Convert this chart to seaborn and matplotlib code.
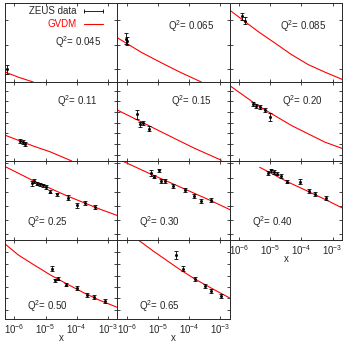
import numpy as np
import pandas as pd
import matplotlib
matplotlib.use("Agg")
import matplotlib.pyplot as plt
import seaborn as sns
from matplotlib.lines import Line2D
from matplotlib.ticker import FixedLocator, NullLocator, LogFormatterMathtext

# Q^2 bins (GeV^2)
q2_bins = ["0.045", "0.065", "0.085", "0.11", "0.15", "0.20",
           "0.25", "0.30", "0.40", "0.50", "0.65"]

# ZEUS data (x, sigma in arbitrary units, error)
x_045 = [5.7e-7]
y_045 = [16]
e_045 = [5.5]
x_065 = [9.7e-7, 1.05e-6]
y_065 = [55, 52]
e_065 = [6.5, 5]
x_085 = [1.24e-6, 1.52e-6]
y_085 = [83, 77.6]
e_085 = [4.2, 4.2]
x_011 = [1.52e-6, 1.85e-6, 2.19e-6]
y_011 = [25.6, 23.9, 21.4]
e_011 = [2.5, 2.5, 2.5]
x_015 = [2.19e-6, 2.6e-6, 3.34e-6, 5.0e-6]
y_015 = [59, 46.5, 48, 41]
e_015 = [5.5, 3, 3, 3]
x_020 = [2.8e-6, 3.6e-6, 4.6e-6, 6.6e-6, 1.01e-5]
y_020 = [71.7, 70, 68, 65, 55.7]
e_020 = [2.5, 2.5, 2.5, 2.5, 4.5]
x_025 = [3.76e-6, 4.35e-6, 5.4e-6, 6.6e-6, 8.1e-6, 1.03e-5, 1.39e-5,
         2.28e-5, 5.4e-5, 1.04e-4, 1.84e-4, 3.84e-4]
y_025 = [71.7, 74.6, 71.3, 70.4, 69.2, 67, 61.2, 57.9, 53.7, 44, 47.4, 41.9]
e_025 = [3.4, 2, 2, 2, 2, 2, 2, 2, 3, 3, 2.5, 2.5]
x_030 = [5.8e-6, 7.5e-6, 1.06e-5, 1.29e-5, 1.64e-5, 3.05e-5, 7.2e-5,
         1.44e-4, 2.34e-4, 5.2e-4]
y_030 = [85, 80, 88.5, 74.6, 74.6, 68.3, 63.3, 55.7, 49.5, 50.7]
e_030 = [3.4, 2, 2, 2, 2, 2, 2, 2.5, 2.5, 2.5]
x_040 = [8.5e-6, 1.09e-5, 1.32e-5, 1.69e-5, 2.16e-5, 3.54e-5, 8.8e-5,
         1.71e-4, 2.8e-4, 6.3e-4]
y_040 = [85, 88, 86, 84, 81, 74, 74, 61.6, 58.7, 53.2]
e_040 = [2.5, 2, 2, 2, 2, 2, 3, 2.5, 2.5, 2.5]
x_050 = [1.57e-5, 2.0e-5, 2.56e-5, 4.5e-5, 1.04e-4, 2.18e-4, 3.57e-4, 8.0e-4]
y_050 = [63.8, 49, 51.2, 43.6, 39.4, 30.2, 27.3, 23]
e_050 = [3.5, 2, 2, 2, 2.5, 2.5, 2.5, 2.5]
x_065b = [3.9e-5, 6.4e-5, 1.51e-4, 3.15e-4, 5.2e-4, 1.08e-3]
y_065b = [81, 63.8, 51.2, 42, 35.6, 29.4]
e_065b = [5, 3.5, 2.5, 2.5, 2.5, 2.5]

# GVDM curves
cx_045 = [5.0e-7, 1.41e-6, 4.0e-6]
cy_045 = [12.6, 5.8, 0]
cx_065 = [5.0e-7, 2.9e-6, 1.29e-5, 5.6e-5, 2.47e-4]
cy_065 = [56, 37.7, 24.3, 11.7, 0]
cx_085 = [5.0e-7, 4.05e-6, 1.39e-5, 4.76e-5, 1.62e-4, 5.56e-4, 2.0e-3]
cy_085 = [91, 64, 49.5, 34.8, 22.2, 12.6, 3.4]
cx_011 = [5.0e-7, 4.05e-6, 1.39e-5, 6.9e-5]
cy_011 = [32.7, 18.9, 11.7, 0]
cx_015 = [5.0e-7, 3.76e-6, 7.9e-6, 4.4e-5, 1.51e-4, 1.08e-3]
cy_015 = [64.5, 47.4, 41, 26.4, 16, 1]
cx_020 = [5.0e-7, 4.05e-6, 4.76e-5, 5.56e-4, 2.0e-3]
cy_020 = [95.5, 70, 45, 24, 16]
cx_025 = [5.0e-7, 4.05e-6, 4.76e-5, 5.56e-4, 2.0e-3]
cy_025 = [93, 75, 56, 39, 31]
cx_030 = [5.0e-7, 6.2e-6, 4.4e-5, 5.2e-4, 2.14e-3]
cy_030 = [103, 83, 68.3, 49.5, 38]
cx_040 = [4.6e-6, 3.7e-5, 1.62e-4, 5.56e-4, 2.0e-3]
cy_040 = [92, 73.4, 61.6, 51.6, 40.7]
cx_050 = [5.0e-7, 1.34e-6, 4.05e-6, 1.39e-5, 4.76e-5, 1.62e-4, 5.56e-4, 2.0e-3]
cy_050 = [95, 81, 69, 56, 44.5, 33.5, 23.5, 14.7]
cx_065b = [2.54e-6, 7.1e-6, 4.5e-5, 1.47e-4, 5.2e-4, 2.14e-3]
cy_065b = [99, 86, 64, 51, 39, 26]

# y tick values per row (no labels in the original)
row_yticks = [[16, 47, 79],
              [8, 21.5, 35, 48.5, 62, 75.5, 89],
              [7, 25, 43, 61, 79, 97],
              [11, 26, 40.5, 55, 70, 85]]

data_sets = [(x_045, y_045, e_045), (x_065, y_065, e_065), (x_085, y_085, e_085),
             (x_011, y_011, e_011), (x_015, y_015, e_015), (x_020, y_020, e_020),
             (x_025, y_025, e_025), (x_030, y_030, e_030), (x_040, y_040, e_040),
             (x_050, y_050, e_050), (x_065b, y_065b, e_065b)]
curves = [(cx_045, cy_045), (cx_065, cy_065), (cx_085, cy_085),
          (cx_011, cy_011), (cx_015, cy_015), (cx_020, cy_020),
          (cx_025, cy_025), (cx_030, cy_030), (cx_040, cy_040),
          (cx_050, cy_050), (cx_065b, cy_065b)]

# where the Q^2 label goes (axes fraction)
label_pos = [(0.445, 0.51), (0.45, 0.71), (0.445, 0.71),
             (0.463, 0.755), (0.478, 0.755), (0.467, 0.755),
             (0.196, 0.23), (0.196, 0.23), (0.196, 0.23),
             (0.196, 0.164), (0.196, 0.164)]

sns.set_theme(style="ticks")
plt.rcParams["font.family"] = ["Liberation Sans", "DejaVu Sans"]
plt.rcParams["mathtext.default"] = "regular"
plt.rcParams["axes.linewidth"] = 0.7

fig = plt.figure(figsize=(3.44, 3.46), dpi=100)
gs = fig.add_gridspec(4, 3, left=5/344, right=342/344, top=1-3/346,
                      bottom=1-319/346, hspace=0, wspace=0)

for i, q2 in enumerate(q2_bins):
    row, col = divmod(i, 3)
    ax = fig.add_subplot(gs[row, col])
    ax.set_facecolor("white")

    cx, cy = curves[i]
    sns.lineplot(x=cx, y=cy, ax=ax, color="red", lw=0.8, sort=False,
                 estimator=None)
    dx, dy, de = data_sets[i]
    ax.errorbar(dx, dy, yerr=de, fmt="s", ms=1.0, color="black",
                elinewidth=0.6, capsize=1.1, capthick=0.6)

    ax.set_xscale("log")
    ax.set_xlim(5e-7, 2e-3)
    ax.set_ylim(0, 100)
    ax.xaxis.set_major_locator(FixedLocator([1e-6, 1e-5, 1e-4, 1e-3]))
    ax.xaxis.set_major_formatter(LogFormatterMathtext())
    ax.xaxis.set_minor_locator(NullLocator())
    ax.yaxis.set_major_locator(FixedLocator(row_yticks[row]))
    ax.yaxis.set_minor_locator(NullLocator())

    bottom_panel = (row == 3) or (row == 2 and col == 2)
    ax.tick_params(direction="in", top=True, right=True, length=2.5,
                   width=0.6, labelsize=7, pad=2, labelleft=False,
                   labelbottom=bottom_panel)
    ax.set_ylabel("")
    if bottom_panel:
        ax.set_xlabel("x", fontsize=7, labelpad=-1.5)
    else:
        ax.set_xlabel("")

    lx, ly = label_pos[i]
    ax.text(lx, ly, f"Q$^2$= {q2}", transform=ax.transAxes, fontsize=7,
            ha="left", va="center")

    if i == 0:
        h_data = Line2D([], [], color="black", lw=0.6, marker="|", ms=3,
                        mew=0.6)
        h_model = Line2D([], [], color="red", lw=0.8)
        leg = ax.legend([h_data, h_model], ["ZEUS data", "GVDM"],
                        loc="upper right", bbox_to_anchor=(0.90, 0.96),
                        frameon=False, markerfirst=False, numpoints=2,
                        fontsize=7, handlelength=2.6, handletextpad=0.4,
                        labelspacing=0.3, borderpad=0, borderaxespad=0)
        leg.get_texts()[1].set_color("red")

fig.savefig("out.png", dpi=100)
